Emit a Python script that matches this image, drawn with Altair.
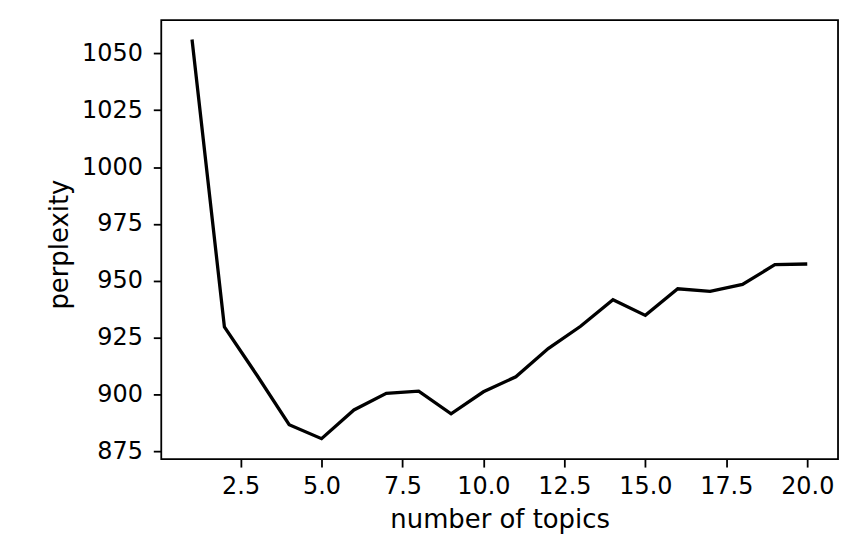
import altair as alt
import pandas as pd

topics = list(range(1, 21))
perplexity = [1056.1, 929.7, 908.6, 886.7, 880.6, 893.2, 900.5, 901.5, 891.5, 901.2,
              907.8, 920.2, 930.0, 941.7, 934.8, 946.5, 945.4, 948.4, 957.1, 957.4]
x_ticks = [2.5, 5.0, 7.5, 10.0, 12.5, 15.0, 17.5, 20.0]
y_ticks = [875, 900, 925, 950, 975, 1000, 1025, 1050]

df = pd.DataFrame({"topics": topics, "perplexity": perplexity})

FONT = "DejaVu Sans"

chart = alt.Chart(df).mark_line(color="black", strokeWidth=3.3).encode(
    x=alt.X("topics:Q",
            scale=alt.Scale(domain=[0.05, 20.95], nice=False, zero=False),
            axis=alt.Axis(values=x_ticks, format=".1f", title="number of topics",
                          grid=False, domain=False, tickSize=8, tickWidth=1.8,
                          tickColor="black", labelFont=FONT, labelFontSize=24,
                          labelColor="black", labelBaseline="alphabetic",
                          labelPadding=26.5, labelFlush=False, labelOverlap=False,
                          titleFont=FONT, titleFontSize=26, titleFontWeight="normal",
                          titleColor="black", titleBaseline="alphabetic", titleY=69)),
    y=alt.Y("perplexity:Q",
            scale=alt.Scale(domain=[871.6, 1064.6], nice=False, zero=False),
            axis=alt.Axis(values=y_ticks, format="d", title="perplexity",
                          grid=False, domain=False, tickSize=8, tickWidth=1.8,
                          tickColor="black", labelFont=FONT, labelFontSize=24,
                          labelColor="black", labelPadding=11, labelFlush=False,
                          labelOverlap=False,
                          titleFont=FONT, titleFontSize=26, titleFontWeight="normal",
                          titleColor="black", titleBaseline="alphabetic",
                          titleX=-94, titleY=225)),
).properties(
    width=680,
    height=441,
    background="white",
    autosize=alt.AutoSizeParams(type="none"),
    padding={"left": 154, "top": 11, "right": 4, "bottom": 78},
).configure_view(
    stroke="black", strokeWidth=1.8
)

chart.save("out.html", embed_options={"renderer": "svg", "actions": False})
